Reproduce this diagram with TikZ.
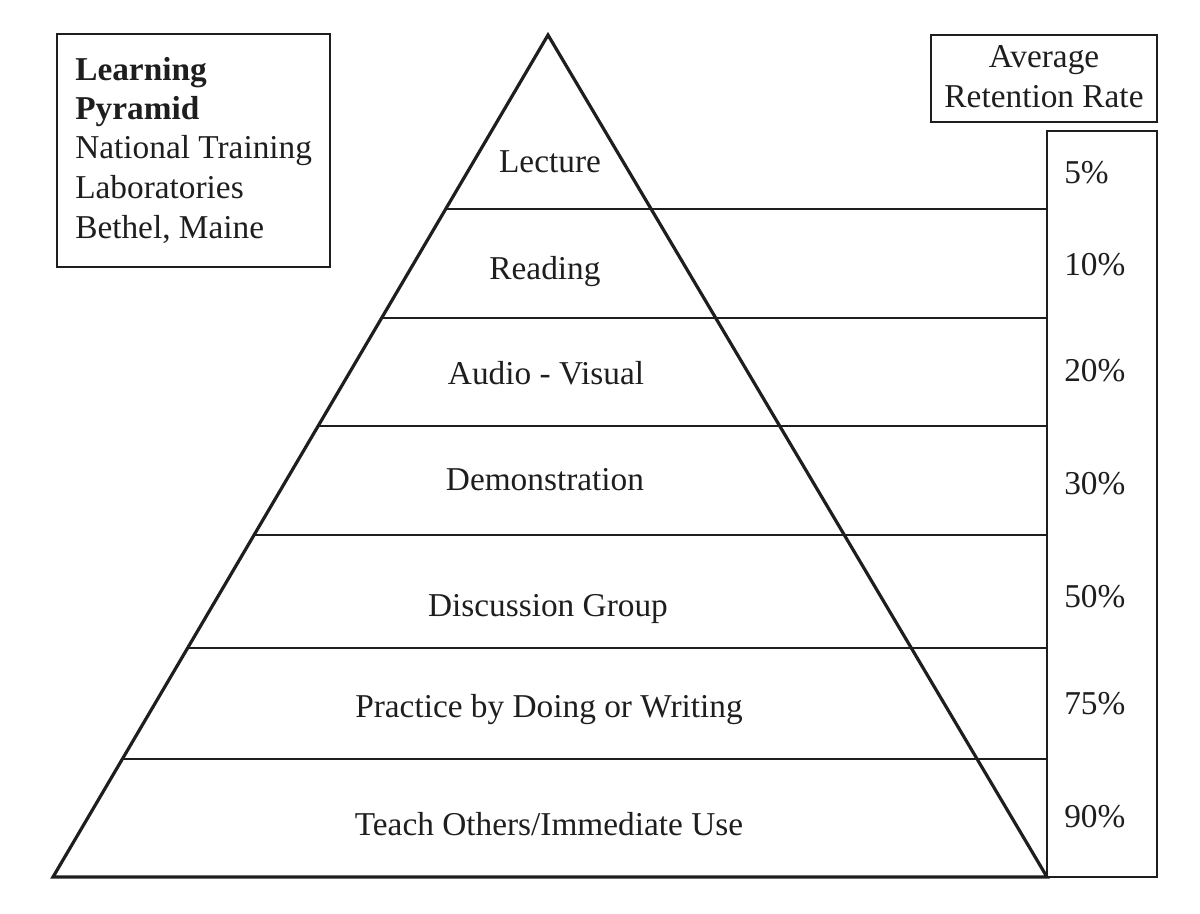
\documentclass[tikz,border=0pt]{standalone}
\usepackage{fontspec}
\setmainfont{Liberation Serif}
\usetikzlibrary{calc}
\definecolor{ink}{HTML}{1E1E1E}
\begin{document}
\begin{tikzpicture}[x=0.75pt,y=-0.75pt,
  thin line/.style={draw=ink,line width=1.4pt},
  thick line/.style={draw=ink,line width=2.4pt,line join=miter},
  lbl/.style={text=ink,inner sep=0pt,anchor=base,font=\fontsize{25}{30}\selectfont},
  lbll/.style={lbl,anchor=base west},
]
\useasboundingbox (0,0) rectangle (1200,914);
% boxes
\coordinate (LB1) at (57,34);   \coordinate (LB2) at (330,267);
\coordinate (AB1) at (931,35);  \coordinate (AB2) at (1157,122);
\coordinate (PB1) at (1047,131);\coordinate (PB2) at (1157,877);
\draw[thin line] (LB1) rectangle (LB2);
\draw[thin line] (AB1) rectangle (AB2);
\draw[thin line] (PB1) rectangle (PB2);
% pyramid
\coordinate (A) at (548,35);
\coordinate (BL) at (53,877);
\coordinate (BR) at (1047,877);
% level lines
\foreach \y [count=\i] in {209,318,426,535,648,759}{
  \coordinate (L\i) at ($(A)!{(\y-35)/842}!(BL)$);
  \draw[thin line] (L\i) -- (L\i -| PB1);
}
\draw[thick line] (A) -- (BL) -- (BR) -- cycle;
% left box text
\node[lbll,font=\fontsize{25}{30}\selectfont\bfseries] (t1) at (75,80) {Learning};
\node[lbll,font=\fontsize{25}{30}\selectfont\bfseries] (t2) at (75,119) {Pyramid};
\node[lbll] (t3) at (75,158) {National Training};
\node[lbll] (t4) at (75,198) {Laboratories};
\node[lbll] (t5) at (75,238) {Bethel, Maine};
% average box
\node[lbl] (avg1) at (1044,67) {Average};
\node[lbl] (avg2) at (1044,107) {Retention Rate};
% pyramid labels
\node[lbl] (lec) at (550,172) {Lecture};
\node[lbl] (rea) at (545,279) {Reading};
\node[lbl] (aud) at (546,384) {Audio - Visual};
\node[lbl] (dem) at (545,490) {Demonstration};
\node[lbl] (dis) at (548,616) {Discussion Group};
\node[lbl] (pra) at (549,717) {Practice by Doing or Writing};
\node[lbl] (tea) at (549,835) {Teach Others/Immediate Use};
% percentages
\node[lbll] (p1) at (1064,183) {5\%};
\node[lbll] (p2) at (1064,275) {10\%};
\node[lbll] (p3) at (1064,381) {20\%};
\node[lbll] (p4) at (1064,494) {30\%};
\node[lbll] (p5) at (1064,607) {50\%};
\node[lbll] (p6) at (1064,714) {75\%};
\node[lbll] (p7) at (1064,827) {90\%};
\end{tikzpicture}
\end{document}
